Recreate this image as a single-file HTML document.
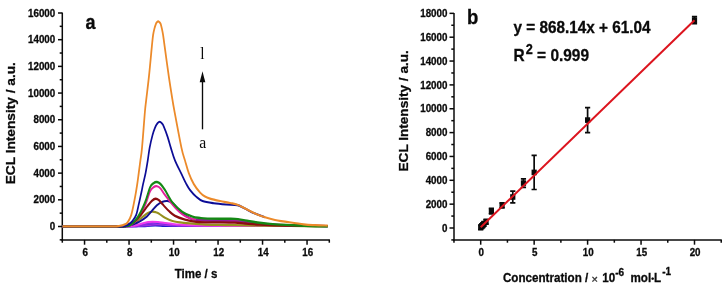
<!DOCTYPE html>
<html lang="en"><head><meta charset="utf-8"><title>ECL figure</title>
<style>html,body{margin:0;padding:0;background:#fff}svg{display:block}text{font-family:"Liberation Sans",Arial,sans-serif;font-weight:bold;fill:#0a0a0a;stroke:#0a0a0a;stroke-width:0.3px}.ser{font-family:"Liberation Serif","Times New Roman",serif;font-weight:normal;stroke:none}</style></head><body>
<svg width="728" height="289" viewBox="0 0 728 289">
<rect width="728" height="289" fill="#ffffff"/>
<g stroke="#0a0a0a" stroke-width="1.5" fill="none" stroke-linecap="butt">
<path d="M62.3,12.6 V240.65"/>
<path d="M61.55,239.9 H329.9"/>
<path d="M59.70,239.84 H62.3"/>
<path d="M58.00,226.50 H62.3"/>
<path d="M59.70,213.16 H62.3"/>
<path d="M58.00,199.81 H62.3"/>
<path d="M59.70,186.47 H62.3"/>
<path d="M58.00,173.12 H62.3"/>
<path d="M59.70,159.78 H62.3"/>
<path d="M58.00,146.44 H62.3"/>
<path d="M59.70,133.09 H62.3"/>
<path d="M58.00,119.75 H62.3"/>
<path d="M59.70,106.41 H62.3"/>
<path d="M58.00,93.06 H62.3"/>
<path d="M59.70,79.72 H62.3"/>
<path d="M58.00,66.38 H62.3"/>
<path d="M59.70,53.03 H62.3"/>
<path d="M58.00,39.69 H62.3"/>
<path d="M59.70,26.34 H62.3"/>
<path d="M58.00,13.00 H62.3"/>
<path d="M62.30,239.9 V242.70"/>
<path d="M84.55,239.9 V244.70"/>
<path d="M106.80,239.9 V242.70"/>
<path d="M129.05,239.9 V244.70"/>
<path d="M151.30,239.9 V242.70"/>
<path d="M173.55,239.9 V244.70"/>
<path d="M195.80,239.9 V242.70"/>
<path d="M218.05,239.9 V244.70"/>
<path d="M240.30,239.9 V242.70"/>
<path d="M262.55,239.9 V244.70"/>
<path d="M284.80,239.9 V242.70"/>
<path d="M307.05,239.9 V244.70"/>
<path d="M329.30,239.9 V242.70"/>
</g>
<text transform="translate(55.20,230.10) scale(0.94,1)" font-size="10.4" text-anchor="end">0</text>
<text transform="translate(55.20,203.41) scale(0.94,1)" font-size="10.4" text-anchor="end">2000</text>
<text transform="translate(55.20,176.72) scale(0.94,1)" font-size="10.4" text-anchor="end">4000</text>
<text transform="translate(55.20,150.04) scale(0.94,1)" font-size="10.4" text-anchor="end">6000</text>
<text transform="translate(55.20,123.35) scale(0.94,1)" font-size="10.4" text-anchor="end">8000</text>
<text transform="translate(55.20,96.66) scale(0.94,1)" font-size="10.4" text-anchor="end">10000</text>
<text transform="translate(55.20,69.97) scale(0.94,1)" font-size="10.4" text-anchor="end">12000</text>
<text transform="translate(55.20,43.29) scale(0.94,1)" font-size="10.4" text-anchor="end">14000</text>
<text transform="translate(55.20,16.60) scale(0.94,1)" font-size="10.4" text-anchor="end">16000</text>
<text transform="translate(85.15,256.30) scale(0.94,1)" font-size="10.4" text-anchor="middle">6</text>
<text transform="translate(129.65,256.30) scale(0.94,1)" font-size="10.4" text-anchor="middle">8</text>
<text transform="translate(174.15,256.30) scale(0.94,1)" font-size="10.4" text-anchor="middle">10</text>
<text transform="translate(218.65,256.30) scale(0.94,1)" font-size="10.4" text-anchor="middle">12</text>
<text transform="translate(263.15,256.30) scale(0.94,1)" font-size="10.4" text-anchor="middle">14</text>
<text transform="translate(307.65,256.30) scale(0.94,1)" font-size="10.4" text-anchor="middle">16</text>
<text transform="translate(174.70,278.20) scale(0.88,1)" font-size="13.1" text-anchor="start">Time / s</text>
<text transform="translate(15.2,184.3) rotate(-90) scale(1,0.94)" font-size="13.7">ECL Intensity / a.u.</text>
<text transform="translate(85.50,28.80) scale(0.88,1)" font-size="20.5" text-anchor="start">a</text>
<g fill="none" stroke-linejoin="round" stroke-linecap="butt" transform="scale(0.8,1)">
<path stroke="#1a1ad0" stroke-width="1.8" d="M78.12,226.40 C92.19,226.40 145.31,226.42 162.50,226.40 C179.69,226.38 176.04,226.43 181.25,226.30 C186.46,226.17 189.58,225.65 193.75,225.60 C197.92,225.55 201.04,225.92 206.25,226.00 C211.46,226.08 191.09,226.10 225.00,226.10 C258.91,226.10 378.91,226.02 409.69,226.00"/>
<path stroke="#2a2ae0" stroke-width="1.8" d="M78.12,226.40 C91.15,226.40 140.94,226.42 156.25,226.40 C171.56,226.38 166.46,226.42 170.00,226.30 C173.54,226.18 175.00,225.93 177.50,225.70 C180.00,225.47 182.50,225.17 185.00,224.90 C187.50,224.63 190.21,224.27 192.50,224.10 C194.79,223.93 196.46,223.87 198.75,223.90 C201.04,223.93 203.54,224.10 206.25,224.30 C208.96,224.50 211.46,224.85 215.00,225.10 C218.54,225.35 221.67,225.65 227.50,225.80 C233.33,225.95 219.64,225.97 250.00,226.00 C280.36,226.03 383.07,226.00 409.69,226.00"/>
<path stroke="#a030e0" stroke-width="1.6" d="M78.12,226.40 C91.15,226.40 140.52,226.42 156.25,226.40 C171.98,226.38 168.12,226.43 172.50,226.30 C176.88,226.17 179.58,225.82 182.50,225.60 C185.42,225.38 187.50,225.13 190.00,225.00 C192.50,224.87 194.58,224.77 197.50,224.80 C200.42,224.83 203.75,225.03 207.50,225.20 C211.25,225.37 212.92,225.67 220.00,225.80 C227.08,225.93 218.39,225.97 250.00,226.00 C281.61,226.03 383.07,226.00 409.69,226.00"/>
<path stroke="#8a2be2" stroke-width="1.8" d="M78.12,226.40 C91.15,226.40 141.35,226.43 156.25,226.40 C171.15,226.37 164.38,226.38 167.50,226.20 C170.62,226.02 172.50,225.67 175.00,225.30 C177.50,224.93 180.00,224.38 182.50,224.00 C185.00,223.62 187.71,223.22 190.00,223.00 C192.29,222.78 193.96,222.67 196.25,222.70 C198.54,222.73 201.04,222.93 203.75,223.20 C206.46,223.47 209.38,223.97 212.50,224.30 C215.62,224.63 218.33,224.95 222.50,225.20 C226.67,225.45 226.67,225.67 237.50,225.80 C248.33,225.93 258.80,225.97 287.50,226.00 C316.20,226.03 389.32,226.00 409.69,226.00"/>
<path stroke="#ee38ee" stroke-width="2.0" d="M78.12,226.40 C91.15,226.40 141.77,226.45 156.25,226.40 C170.73,226.35 162.40,226.33 165.00,226.10 C167.60,225.87 169.58,225.47 171.88,225.00 C174.17,224.53 176.56,223.78 178.75,223.30 C180.94,222.82 183.02,222.37 185.00,222.10 C186.98,221.83 188.54,221.70 190.62,221.70 C192.71,221.70 194.90,221.88 197.50,222.10 C200.10,222.32 203.33,222.72 206.25,223.00 C209.17,223.28 211.88,223.53 215.00,223.80 C218.12,224.07 221.25,224.35 225.00,224.60 C228.75,224.85 232.29,225.12 237.50,225.30 C242.71,225.48 247.92,225.60 256.25,225.70 C264.58,225.80 261.93,225.85 287.50,225.90 C313.07,225.95 389.32,225.98 409.69,226.00"/>
<path stroke="#96901e" stroke-width="2.2" d="M78.12,226.40 C89.69,226.40 134.90,226.45 147.50,226.40 C160.10,226.35 151.88,226.23 153.75,226.10 C155.62,225.97 156.51,226.03 158.75,225.60 C160.99,225.17 164.48,224.60 167.19,223.50 C169.90,222.40 172.40,220.58 175.00,219.00 C177.60,217.42 180.83,215.13 182.81,214.00 C184.79,212.87 185.57,212.60 186.88,212.20 C188.18,211.80 189.38,211.62 190.62,211.60 C191.88,211.58 193.07,211.78 194.38,212.10 C195.68,212.42 196.46,212.55 198.44,213.50 C200.42,214.45 203.39,216.55 206.25,217.80 C209.11,219.05 211.72,220.17 215.62,221.00 C219.53,221.83 223.44,222.25 229.69,222.80 C235.94,223.35 245.57,223.95 253.12,224.30 C260.68,224.65 268.23,224.75 275.00,224.90 C281.77,225.05 285.42,225.08 293.75,225.20 C302.08,225.32 313.54,225.47 325.00,225.60 C336.46,225.73 348.39,225.90 362.50,226.00 C376.61,226.10 401.82,226.17 409.69,226.20"/>
<path stroke="#101090" stroke-width="2.1" d="M78.12,226.40 C90.10,226.40 137.08,226.43 150.00,226.40 C162.92,226.37 153.96,226.30 155.62,226.20 C157.29,226.10 158.12,226.12 160.00,225.80 C161.88,225.48 164.48,225.00 166.88,224.30 C169.27,223.60 171.60,222.88 174.38,221.60 C177.15,220.32 180.94,218.37 183.50,216.60 C186.06,214.83 187.67,212.87 189.75,211.00 C191.83,209.13 193.88,206.90 196.00,205.40 C198.12,203.90 200.31,202.73 202.50,202.00 C204.69,201.27 207.04,200.87 209.12,201.00 C211.21,201.13 213.19,201.88 215.00,202.80 C216.81,203.72 217.92,204.83 220.00,206.50 C222.08,208.17 224.58,210.83 227.50,212.80 C230.42,214.77 234.79,217.17 237.50,218.30 C240.21,219.43 240.62,219.25 243.75,219.60 C246.88,219.95 251.04,220.22 256.25,220.40 C261.46,220.58 268.75,220.60 275.00,220.70 C281.25,220.80 288.54,220.77 293.75,221.00 C298.96,221.23 301.67,221.67 306.25,222.10 C310.83,222.53 316.04,223.18 321.25,223.60 C326.46,224.02 331.46,224.32 337.50,224.60 C343.54,224.88 345.47,225.05 357.50,225.30 C369.53,225.55 400.99,225.97 409.69,226.10"/>
<path stroke="#e2209a" stroke-width="2.2" d="M78.12,226.40 C90.10,226.40 136.98,226.45 150.00,226.40 C163.02,226.35 154.17,226.27 156.25,226.10 C158.33,225.93 159.90,226.58 162.50,225.40 C165.10,224.22 168.75,222.32 171.88,219.00 C175.00,215.68 178.65,210.08 181.25,205.50 C183.85,200.92 185.73,194.53 187.50,191.50 C189.27,188.47 190.42,188.18 191.88,187.30 C193.33,186.43 194.79,186.05 196.25,186.25 C197.71,186.45 198.96,187.04 200.62,188.50 C202.29,189.96 203.23,191.83 206.25,195.00 C209.27,198.17 215.62,204.62 218.75,207.50 C221.88,210.38 222.92,210.88 225.00,212.30 C227.08,213.72 229.17,215.00 231.25,216.00 C233.33,217.00 235.42,217.72 237.50,218.30 C239.58,218.88 240.62,219.17 243.75,219.50 C246.88,219.83 251.04,220.12 256.25,220.30 C261.46,220.48 268.75,220.50 275.00,220.60 C281.25,220.70 288.54,220.67 293.75,220.90 C298.96,221.13 301.67,221.57 306.25,222.00 C310.83,222.43 316.04,223.08 321.25,223.50 C326.46,223.92 331.46,224.22 337.50,224.50 C343.54,224.78 345.47,224.95 357.50,225.20 C369.53,225.45 400.99,225.87 409.69,226.00"/>
<path stroke="#4a1a90" stroke-width="1.7" stroke-opacity="0.55" d="M245.00,219.70 C246.88,219.82 251.25,220.23 256.25,220.40 C261.25,220.57 268.75,220.60 275.00,220.70 C281.25,220.80 288.54,220.77 293.75,221.00 C298.96,221.23 301.67,221.67 306.25,222.10 C310.83,222.53 316.04,223.18 321.25,223.60 C326.46,224.02 331.46,224.32 337.50,224.60 C343.54,224.88 354.17,225.18 357.50,225.30"/>
<path stroke="#8c0c10" stroke-width="2.3" d="M78.12,226.40 C89.69,226.40 134.90,226.45 147.50,226.40 C160.10,226.35 151.77,226.25 153.75,226.10 C155.73,225.95 157.14,226.14 159.38,225.50 C161.61,224.86 164.58,223.83 167.19,222.25 C169.79,220.67 172.14,218.71 175.00,216.00 C177.86,213.29 181.88,208.55 184.38,206.00 C186.88,203.45 188.31,201.91 190.00,200.70 C191.69,199.49 193.04,198.83 194.50,198.75 C195.96,198.67 197.31,199.29 198.75,200.20 C200.19,201.11 201.09,202.42 203.12,204.20 C205.16,205.98 208.33,208.95 210.94,210.90 C213.54,212.85 215.36,214.45 218.75,215.90 C222.14,217.35 226.82,218.62 231.25,219.60 C235.68,220.58 240.94,221.33 245.31,221.80 C249.69,222.27 252.55,222.30 257.50,222.40 C262.45,222.50 268.96,222.35 275.00,222.40 C281.04,222.45 288.54,222.52 293.75,222.70 C298.96,222.88 301.04,223.18 306.25,223.50 C311.46,223.82 316.46,224.25 325.00,224.60 C333.54,224.95 343.39,225.35 357.50,225.60 C371.61,225.85 400.99,226.02 409.69,226.10"/>
<path stroke="#148814" stroke-width="2.4" d="M78.12,226.40 C90.10,226.40 136.98,226.47 150.00,226.40 C163.02,226.33 154.17,226.20 156.25,226.00 C158.33,225.80 159.90,226.62 162.50,225.20 C165.10,223.78 168.75,221.28 171.88,217.50 C175.00,213.72 178.65,207.50 181.25,202.50 C183.85,197.50 185.73,190.72 187.50,187.50 C189.27,184.28 190.42,184.12 191.88,183.20 C193.33,182.28 194.79,181.87 196.25,182.00 C197.71,182.13 198.96,182.67 200.62,184.00 C202.29,185.33 203.75,186.92 206.25,190.00 C208.75,193.08 211.98,198.83 215.62,202.50 C219.27,206.17 223.96,209.63 228.12,212.00 C232.29,214.37 236.98,215.70 240.62,216.70 C244.27,217.70 246.88,217.68 250.00,218.00 C253.12,218.32 253.91,218.47 259.38,218.60 C264.84,218.72 277.08,218.70 282.81,218.75 C288.54,218.80 289.84,218.62 293.75,218.90 C297.66,219.18 301.56,219.80 306.25,220.40 C310.94,221.00 316.67,221.92 321.88,222.50 C327.08,223.08 331.56,223.50 337.50,223.90 C343.44,224.30 349.17,224.55 357.50,224.90 C365.83,225.25 378.80,225.77 387.50,226.00 C396.20,226.23 405.99,226.25 409.69,226.30"/>
<path stroke="#0c0c96" stroke-width="2.1" d="M78.12,226.40 C89.69,226.40 134.90,226.43 147.50,226.40 C160.10,226.37 152.08,226.33 153.75,226.20 C155.42,226.07 156.25,225.97 157.50,225.60 C158.75,225.23 159.90,224.77 161.25,224.00 C162.60,223.23 164.11,222.54 165.62,221.00 C167.14,219.46 169.04,217.42 170.31,214.75 C171.58,212.08 172.34,208.12 173.25,205.00 C174.16,201.88 175.06,198.50 175.75,196.00 C176.44,193.50 176.85,192.00 177.38,190.00 C177.90,188.00 178.10,186.83 178.87,184.00 C179.65,181.17 181.03,176.92 182.00,173.00 C182.97,169.08 183.85,164.67 184.69,160.50 C185.52,156.33 186.01,152.21 187.00,148.00 C187.99,143.79 189.50,138.62 190.62,135.25 C191.75,131.88 192.71,129.74 193.75,127.75 C194.79,125.76 195.89,124.30 196.88,123.30 C197.86,122.30 198.79,121.75 199.69,121.75 C200.58,121.75 201.42,122.51 202.25,123.30 C203.08,124.09 203.50,124.30 204.69,126.50 C205.88,128.70 207.89,132.92 209.38,136.50 C210.86,140.08 212.06,144.00 213.62,148.00 C215.19,152.00 216.65,156.33 218.75,160.50 C220.85,164.67 223.90,169.08 226.25,173.00 C228.60,176.92 231.00,181.17 232.88,184.00 C234.75,186.83 235.43,187.88 237.50,190.00 C239.57,192.12 242.71,194.92 245.31,196.75 C247.92,198.58 249.48,199.92 253.12,201.00 C256.77,202.08 262.24,202.67 267.19,203.25 C272.14,203.83 277.86,204.19 282.81,204.50 C287.76,204.81 292.97,204.42 296.88,205.10 C300.78,205.78 302.60,207.18 306.25,208.60 C309.90,210.02 314.58,212.15 318.75,213.60 C322.92,215.05 329.17,216.68 331.25,217.30"/>
<path stroke="#ec8a2a" stroke-width="2.2" d="M78.12,226.40 C85.94,226.40 114.27,226.40 125.00,226.40 C135.73,226.40 138.54,226.47 142.50,226.40 C146.46,226.33 146.98,226.17 148.75,226.00 C150.52,225.83 151.88,225.68 153.12,225.40 C154.38,225.12 155.21,224.78 156.25,224.30 C157.29,223.82 158.07,224.05 159.38,222.50 C160.68,220.95 162.50,219.17 164.06,215.00 C165.62,210.83 167.50,202.67 168.75,197.50 C170.00,192.33 170.78,188.08 171.56,184.00 C172.34,179.92 172.78,176.92 173.44,173.00 C174.09,169.08 174.82,164.67 175.50,160.50 C176.18,156.33 176.56,156.08 177.50,148.00 C178.44,139.92 180.25,120.00 181.12,112.00 C182.00,104.00 181.90,106.00 182.75,100.00 C183.60,94.00 185.06,85.00 186.25,76.00 C187.44,67.00 189.02,52.83 189.88,46.00 C190.73,39.17 190.85,37.88 191.37,35.00 C191.90,32.12 192.40,30.62 193.00,28.75 C193.60,26.88 194.42,24.88 195.00,23.75 C195.58,22.62 196.05,22.39 196.50,22.00 C196.95,21.61 197.27,21.40 197.69,21.40 C198.10,21.40 198.49,21.61 199.00,22.00 C199.51,22.39 200.19,22.62 200.75,23.75 C201.31,24.88 201.85,26.88 202.38,28.75 C202.90,30.62 203.31,32.12 203.87,35.00 C204.44,37.88 204.57,39.17 205.75,46.00 C206.93,52.83 209.29,67.00 210.94,76.00 C212.58,85.00 214.41,94.00 215.62,100.00 C216.84,106.00 216.37,104.00 218.25,112.00 C220.12,120.00 224.71,139.92 226.88,148.00 C229.04,156.08 229.74,156.33 231.25,160.50 C232.76,164.67 234.11,169.08 235.94,173.00 C237.76,176.92 239.84,180.75 242.19,184.00 C244.53,187.25 247.66,190.40 250.00,192.50 C252.34,194.60 254.17,195.58 256.25,196.60 C258.33,197.62 259.38,197.87 262.50,198.60 C265.62,199.33 270.83,200.27 275.00,201.00 C279.17,201.73 283.85,202.38 287.50,203.00 C291.15,203.62 293.75,203.83 296.88,204.75 C300.00,205.67 302.60,207.04 306.25,208.50 C309.90,209.96 314.58,212.04 318.75,213.50 C322.92,214.96 327.08,216.17 331.25,217.25 C335.42,218.33 339.58,219.28 343.75,220.00 C347.92,220.72 350.26,220.87 356.25,221.60 C362.24,222.33 373.44,223.80 379.69,224.40 C385.94,225.00 388.75,225.00 393.75,225.20 C398.75,225.40 407.03,225.53 409.69,225.60"/>
</g>
<path d="M202.5,129.3 V80" stroke="#0a0a0a" stroke-width="1.35" fill="none"/>
<path d="M202.5,71.3 L205.3,82.3 H199.7 Z" fill="#0a0a0a"/>
<text class="ser" transform="translate(200.20,58.80) scale(0.9,1)" font-size="17.2" text-anchor="start">l</text>
<text class="ser" transform="translate(199.20,147.60) scale(0.9,1)" font-size="17.5" text-anchor="start">a</text>
<g stroke="#0a0a0a" stroke-width="1.5" fill="none">
<path d="M454.0,12.9 V240.65"/>
<path d="M453.25,239.9 H721.8"/>
<path d="M451.30,239.93 H454.0"/>
<path d="M449.50,228.00 H454.0"/>
<path d="M451.30,216.07 H454.0"/>
<path d="M449.50,204.15 H454.0"/>
<path d="M451.30,192.22 H454.0"/>
<path d="M449.50,180.30 H454.0"/>
<path d="M451.30,168.38 H454.0"/>
<path d="M449.50,156.45 H454.0"/>
<path d="M451.30,144.52 H454.0"/>
<path d="M449.50,132.60 H454.0"/>
<path d="M451.30,120.67 H454.0"/>
<path d="M449.50,108.75 H454.0"/>
<path d="M451.30,96.82 H454.0"/>
<path d="M449.50,84.90 H454.0"/>
<path d="M451.30,72.97 H454.0"/>
<path d="M449.50,61.05 H454.0"/>
<path d="M451.30,49.12 H454.0"/>
<path d="M449.50,37.20 H454.0"/>
<path d="M451.30,25.27 H454.0"/>
<path d="M449.50,13.35 H454.0"/>
<path d="M453.97,239.9 V242.70"/>
<path d="M480.70,239.9 V244.70"/>
<path d="M507.43,239.9 V242.70"/>
<path d="M534.15,239.9 V244.70"/>
<path d="M560.88,239.9 V242.70"/>
<path d="M587.60,239.9 V244.70"/>
<path d="M614.33,239.9 V242.70"/>
<path d="M641.05,239.9 V244.70"/>
<path d="M667.77,239.9 V242.70"/>
<path d="M694.50,239.9 V244.70"/>
<path d="M721.22,239.9 V242.70"/>
</g>
<text transform="translate(447.40,231.70) scale(0.94,1)" font-size="10.4" text-anchor="end">0</text>
<text transform="translate(447.40,207.85) scale(0.94,1)" font-size="10.4" text-anchor="end">2000</text>
<text transform="translate(447.40,184.00) scale(0.94,1)" font-size="10.4" text-anchor="end">4000</text>
<text transform="translate(447.40,160.15) scale(0.94,1)" font-size="10.4" text-anchor="end">6000</text>
<text transform="translate(447.40,136.30) scale(0.94,1)" font-size="10.4" text-anchor="end">8000</text>
<text transform="translate(447.40,112.45) scale(0.94,1)" font-size="10.4" text-anchor="end">10000</text>
<text transform="translate(447.40,88.60) scale(0.94,1)" font-size="10.4" text-anchor="end">12000</text>
<text transform="translate(447.40,64.75) scale(0.94,1)" font-size="10.4" text-anchor="end">14000</text>
<text transform="translate(447.40,40.90) scale(0.94,1)" font-size="10.4" text-anchor="end">16000</text>
<text transform="translate(447.40,17.05) scale(0.94,1)" font-size="10.4" text-anchor="end">18000</text>
<text transform="translate(481.30,256.30) scale(0.94,1)" font-size="10.4" text-anchor="middle">0</text>
<text transform="translate(534.75,256.30) scale(0.94,1)" font-size="10.4" text-anchor="middle">5</text>
<text transform="translate(588.20,256.30) scale(0.94,1)" font-size="10.4" text-anchor="middle">10</text>
<text transform="translate(641.65,256.30) scale(0.94,1)" font-size="10.4" text-anchor="middle">15</text>
<text transform="translate(695.10,256.30) scale(0.94,1)" font-size="10.4" text-anchor="middle">20</text>
<text transform="translate(407.5,171.5) rotate(-90) scale(1,0.94)" font-size="13.6">ECL Intensity / a.u.</text>
<text transform="translate(467.00,24.00) scale(0.9,1)" font-size="20.6" text-anchor="start">b</text>
<text transform="translate(513.50,32.50) scale(0.958,1)" font-size="16.0" text-anchor="start">y = 868.14x + 61.04</text>
<text transform="translate(513.5,60.5) scale(0.92,1)" font-size="16.8">R<tspan dy="-6.4" dx="1.2" font-size="13.8">2</tspan><tspan dy="6.4"> = 0.999</tspan></text>
<text transform="translate(502.90,282.30) scale(0.925,1)" font-size="12.6" text-anchor="start">Concentration /</text>
<text x="594.8" y="283.0" font-size="11" text-anchor="middle" style="font-weight:normal;stroke:#333;stroke-width:0.35px;fill:#333">×</text>
<text transform="translate(602.30,282.30) scale(0.925,1)" font-size="12.6" text-anchor="start">10</text>
<text transform="translate(615.20,276.40) scale(0.98,1)" font-size="10.2" text-anchor="start">-6</text>
<text transform="translate(630.50,282.30) scale(0.925,1)" font-size="12.6" text-anchor="start">mol</text>
<text x="652.7" y="281.9" font-size="9.5" text-anchor="middle" style="stroke:none">•</text>
<text transform="translate(653.90,282.30) scale(0.925,1)" font-size="12.6" text-anchor="start">L</text>
<text transform="translate(662.30,275.20) scale(0.98,1)" font-size="10.2" text-anchor="start">-1</text>
<g stroke="#0a0a0a" stroke-width="1.7" fill="#0a0a0a">
<path d="M480.70,225.02 V229.55 M478.10,225.02 H483.30 M478.10,229.55 H483.30" fill="none"/>
<rect x="478.10" y="224.48" width="5.2" height="5.6" stroke="none"/>
<path d="M481.77,223.95 V228.48 M479.17,223.95 H484.37 M479.17,228.48 H484.37" fill="none"/>
<rect x="479.17" y="223.41" width="5.2" height="5.6" stroke="none"/>
<path d="M482.84,222.75 V227.28 M480.24,222.75 H485.44 M480.24,227.28 H485.44" fill="none"/>
<rect x="480.24" y="222.22" width="5.2" height="5.6" stroke="none"/>
<path d="M483.91,221.68 V226.21 M481.31,221.68 H486.51 M481.31,226.21 H486.51" fill="none"/>
<rect x="481.31" y="221.15" width="5.2" height="5.6" stroke="none"/>
<path d="M486.05,219.41 V224.18 M483.44,219.41 H488.65 M483.44,224.18 H488.65" fill="none"/>
<rect x="483.44" y="219.00" width="5.2" height="5.6" stroke="none"/>
<path d="M491.39,208.44 V213.93 M488.79,208.44 H493.99 M488.79,213.93 H493.99" fill="none"/>
<rect x="488.79" y="208.39" width="5.2" height="5.6" stroke="none"/>
<path d="M502.08,202.84 V207.85 M499.48,202.84 H504.68 M499.48,207.85 H504.68" fill="none"/>
<rect x="499.48" y="202.54" width="5.2" height="5.6" stroke="none"/>
<path d="M512.77,191.03 V202.96 M510.17,191.03 H515.37 M510.17,202.96 H515.37" fill="none"/>
<rect x="510.17" y="194.19" width="5.2" height="5.6" stroke="none"/>
<path d="M523.46,178.81 V187.40 M520.86,178.81 H526.06 M520.86,187.40 H526.06" fill="none"/>
<rect x="520.86" y="180.30" width="5.2" height="5.6" stroke="none"/>
<path d="M534.15,155.38 V189.48 M531.55,155.38 H536.75 M531.55,189.48 H536.75" fill="none"/>
<rect x="531.55" y="169.63" width="5.2" height="5.6" stroke="none"/>
<path d="M587.60,107.56 V132.60 M585.00,107.56 H590.20 M585.00,132.60 H590.20" fill="none"/>
<rect x="585.00" y="117.28" width="5.2" height="5.6" stroke="none"/>
<path d="M694.50,16.69 V23.61 M691.90,16.69 H697.10 M691.90,23.61 H697.10" fill="none"/>
<rect x="691.90" y="17.35" width="5.2" height="5.6" stroke="none"/>
</g>
<path d="M480.70,227.27 L694.50,20.22" stroke="#dc141e" stroke-width="2" fill="none"/>
</svg></body></html>
